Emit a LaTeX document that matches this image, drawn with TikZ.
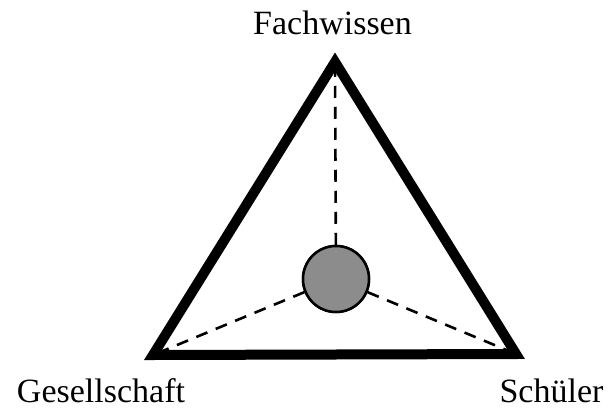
\documentclass[tikz,border=0pt]{standalone}
\usepackage{fontspec}
\setmainfont{Liberation Serif}
\begin{document}
\begin{tikzpicture}[x=1pt,y=-1pt,
  tri/.style={line width=10pt, line join=miter},
  spoke/.style={line width=2.6pt, dash pattern=on 12pt off 9pt},
  hub/.style={circle, draw, line width=2.5pt, fill=black!45, minimum size=66pt, inner sep=0pt},
  lbl/.style={font=\fontsize{34}{40}\selectfont, anchor=base, inner sep=0pt}]
\useasboundingbox (0,0) rectangle (609,409);
\coordinate (A) at (335,62);
\coordinate (B) at (153,355);
\coordinate (C) at (516,354);
\node[hub] (H) at (336,279) {};
\draw[spoke] (H) -- (A);
\draw[spoke] (H) -- (B);
\draw[spoke] (H) -- (C);
\draw[tri] (A) -- (B) -- (C) -- cycle;
\node[hub] at (336,279) {};
\node[lbl] (f) at (332.5,35) {Fachwissen};
\node[lbl] (g) at (101,402) {Gesellschaft};
\node[lbl] (s) at (551.5,402) {Schüler};
\end{tikzpicture}
\end{document}
